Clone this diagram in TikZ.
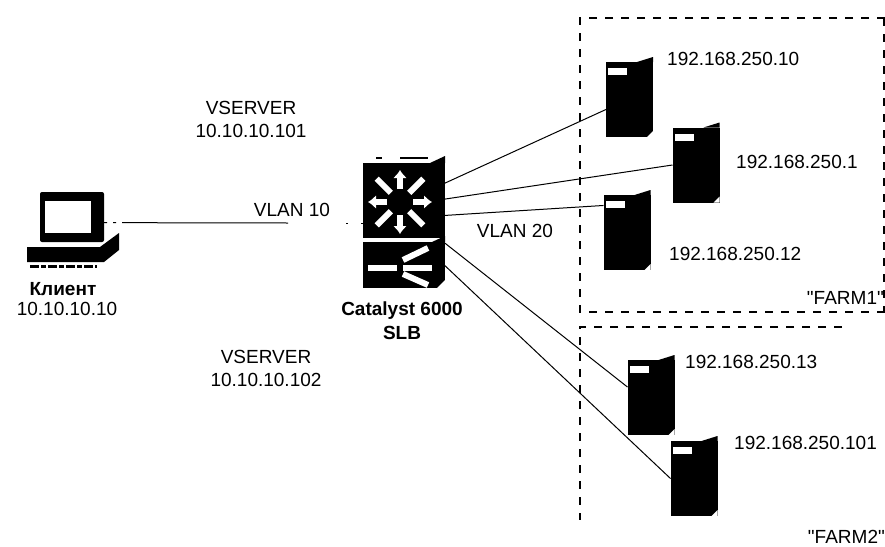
\documentclass[tikz,border=0pt]{standalone}
\usepackage{fontspec}
\setmainfont{Liberation Sans}
\newfontfamily\farmfont{Liberation Sans}
\usetikzlibrary{arrows.meta}
\tikzset{
    lbl/.style={inner sep=0pt,align=center,font=\fontsize{19}{23}\selectfont},
    boldlbl/.style={lbl,font=\fontsize{19}{24}\selectfont\bfseries},
    box/.style={fill=black,inner sep=0pt,outer sep=0pt},
    serverbox/.style={box,minimum width=47,minimum height=75},
    farmline/.style={line width=1.3pt,dash pattern=on 8pt off 8pt},
    link/.style={line width=1pt},
    swarrow/.style={white,line width=5.5pt,-{Latex[length=8pt,width=14pt]}},
    swbar/.style={white,line width=6pt}
}
\begin{document}
\begin{tikzpicture}[x=1pt,y=-1pt]
        \useasboundingbox (0,0) rectangle (885,546);

        % draw the farms
        \draw[farmline] (885,18) -- (580,18) -- (580,312) -- (885,312);
        \draw[farmline] (884,18) -- (884,312);
        \draw[farmline] (842,327) -- (580,327) -- (580,520);

        % draw the client
        \node[box,minimum width=64,minimum height=50,rounded corners=2pt] (client) at (72,217) {};
        \fill[white] (45,201) rectangle (91,233);
        \fill (27,262) -- (27,247) -- (100,247) -- (119,233) -- (119,250) -- (104,262) -- cycle;
        \draw[white,line width=1.2pt] (36,244) -- (100,244);
        \draw[line width=3pt,dash pattern=on 9pt off 2pt on 5pt off 2pt] (30,266) -- (97,266);

        % draw the switch
        \node[box,minimum width=82,minimum height=75] (swtop) at (404,200.5) {};
        \node[box,minimum width=82,minimum height=46] (swbot) at (404,265) {};
        \fill (430,163) -- (445,156) -- (445,163) -- cycle;
        \fill (432,242) -- (445,236) -- (445,242) -- cycle;
        \fill[white] (445,288) -- (445,280) -- (437,288) -- cycle;
        \draw[line width=1.2pt,dash pattern=on 6pt off 18pt on 28pt off 30pt] (376,158) -- (432,158);
        \foreach \a in {0,90,180,270}
                \draw[swarrow] (400,202) ++(\a:13) -- ++(\a:19);
        \foreach \a in {45,135,225,315}
                \draw[swbar] (400,202) ++(\a:13) -- ++(\a:20);
        \draw[swbar] (368,268) -- (397,268);
        \draw[swbar] (403,268) -- (432,268);
        \draw[swbar] (403,260) -- (428,248);
        \draw[swbar] (403,274) -- (428,285);

        % draw the servers
        \foreach \name/\px/\py in {
            srva/629.5/99.5,
            srvb/696/165,
            srvc/627/232.5,
            srvd/651/397.5,
            srve/694/478.5} {
                \node[serverbox] (\name) at (\px,\py) {};
                \fill (\name.north east) ++(-16,0) -- ++(16,-5) -- ++(0,5) -- cycle;
                \fill[white] (\name.south east) -- ++(-6,0) -- ++(6,-6) -- cycle;
                \fill[white] (\name.north west) ++(2,6) rectangle ++(19,7);
        }

        % draw the links
        \coordinate (gapa) at (288,223);
        \coordinate (gapb) at (346,223);
        \draw[link,dash pattern=on 3pt off 6pt on 3pt off 6pt on 170pt off 9pt] (client.-10.6) -- (gapa);
        \draw[link,dash pattern=on 2pt off 13pt] (gapb) -- (swtop.west |- gapb);
        \draw[link] (swtop.23) -- (srva.203.6);
        \draw[link] (swtop.2) -- (srvb.west);
        \draw[link] (swtop.-20.7) -- (srvc.131);
        \draw[link] (swbot.28) -- (srvd.156);
        \draw[link] (swbot.-1) -- (srve.west);

        % draw the labels
        \node[lbl] (vsa) at (251,119.5) {VSERVER\\10.10.10.101};
        \node[lbl] (vsb) at (266,368) {VSERVER\\10.10.10.102};
        \node[lbl] (vlana) at (292,210) {VLAN 10};
        \node[lbl] (vlanb) at (515,231) {VLAN 20};
        \node[lbl] (clientip) at (67,309) {10.10.10.10};
        \node[boldlbl] (clientname) at (63,289) {Клиент};
        \node[boldlbl] (swname) at (402,321) {Catalyst 6000\\SLB};
        \foreach \name/\px/\py/\ptext in {
            ipa/667/59/192.168.250.10,
            ipb/736/162/192.168.250.1,
            ipc/669/254/192.168.250.12,
            ipd/685/362/192.168.250.13,
            ipe/734/443/192.168.250.101}
                \node[lbl,anchor=west] (\name) at (\px,\py) {\ptext};
        \node[lbl,anchor=east] (farma) at (884,298) {\farmfont"FARM1"};
        \node[lbl,anchor=east] (farmb) at (885,537) {\farmfont"FARM2"};
\end{tikzpicture}
\end{document}
